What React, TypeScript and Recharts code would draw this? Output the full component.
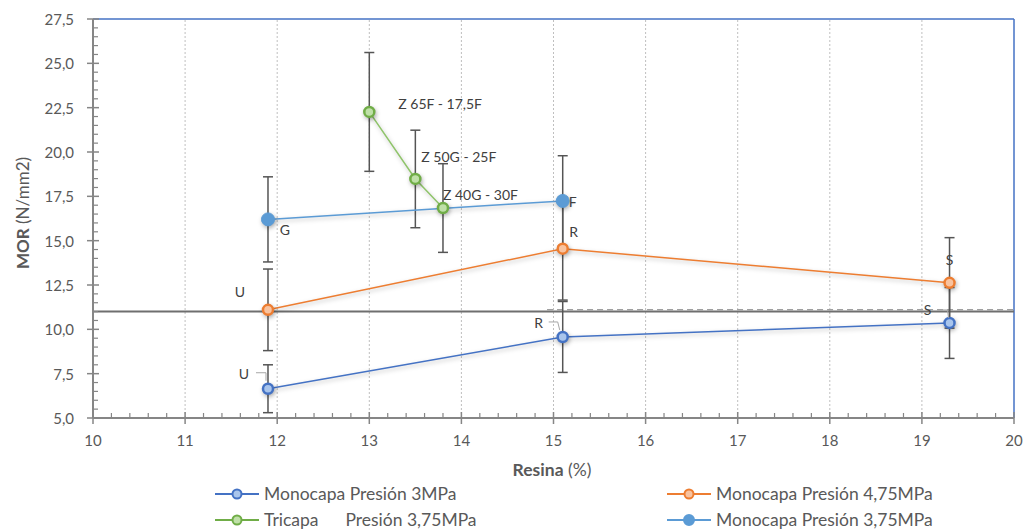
import { ErrorBar, LabelList, Line, LineChart, ReferenceLine, XAxis, YAxis } from 'recharts';

// Resina (%) / MOR (N/mm2) / desviación / etiqueta
const resinaMono3 = [11.9, 15.1, 19.3];
const morMono3 = [6.65, 9.57, 10.36];
const errMono3 = [1.35, 2.0, 2.0];
const labelsMono3 = ['U', 'R', 'S'];

const resinaMono475 = [11.9, 15.1, 19.3];
const morMono475 = [11.1, 14.55, 12.62];
const errMono475 = [2.3, 2.9, 2.55];
const labelsMono475 = ['U', 'R', 'S'];

const resinaTri = [13.0, 13.5, 13.8];
const morTri = [22.26, 18.48, 16.84];
const errTri = [3.35, 2.75, 2.5];
const labelsTri = ['Z 65F - 17,5F', 'Z 50G - 25F', 'Z 40G - 30F'];

const resinaMono375 = [11.9, 15.1];
const morMono375 = [16.2, 17.24];
const errMono375 = [2.4, 2.55];
const labelsMono375 = ['G', 'F'];

const xMajorTicks = [10, 11, 12, 13, 14, 15, 16, 17, 18, 19, 20];
const yMajorTicks = [5, 7.5, 10, 12.5, 15, 17.5, 20, 22.5, 25, 27.5];
const xGridLines = [11, 12, 13, 14, 15, 16, 17, 18, 19];

const xTicks = Array.from({ length: 51 }, (_, i) => Math.round((10 + i * 0.2) * 10) / 10);
const yTicks = Array.from({ length: 46 }, (_, i) => 5 + i * 0.5);

const limitLine = 11;
const dashedLine = 11.1;

type Pt = { x: number; y: number; err: number; label: string };

const toPoints = (xs: number[], ys: number[], es: number[], ls: string[]): Pt[] =>
  xs.map((x, i) => ({ x, y: ys[i], err: es[i], label: ls[i] }));

const mono3 = toPoints(resinaMono3, morMono3, errMono3, labelsMono3);
const mono475 = toPoints(resinaMono475, morMono475, errMono475, labelsMono475);
const tri = toPoints(resinaTri, morTri, errTri, labelsTri);
const mono375 = toPoints(resinaMono375, morMono375, errMono375, labelsMono375);

const FONT = 'Lato, "Open Sans", sans-serif';
const TEXT = '#595959';
const AXIS = '#868686';

const C_MONO3 = '#4472C4';
const C_MONO475 = '#ED7D31';
const C_TRI = '#70AD47';
const C_MONO375 = '#5B9BD5';

type Place = { dx: number; dy: number; anchor?: 'start' | 'middle' | 'end'; leader?: number[][] };

const placeMono3: Place[] = [
  { dx: -24, dy: -15, leader: [[-12, -16], [-2, -16], [-2, -8]] },
  { dx: -24, dy: -14, leader: [[-14, -15], [-5, -15], [-3, -7]] },
  { dx: -22, dy: -13, leader: [[-11, -13], [-2, -13], [-1, -5]] },
];
const placeMono475: Place[] = [
  { dx: -28, dy: -18 },
  { dx: 11, dy: -17 },
  { dx: 0, dy: -23 },
];
const placeTri: Place[] = [
  { dx: 29, dy: -8, anchor: 'start' },
  { dx: 6, dy: -22, anchor: 'start' },
  { dx: 0, dy: -14, anchor: 'start' },
];
const placeMono375: Place[] = [
  { dx: 17, dy: 10 },
  { dx: 10, dy: 1 },
];

function makeLabel(places: Place[]) {
  return (props: any) => {
    const { x, y, index, value } = props;
    const p = places[index];
    if (!p || x == null || y == null) return null;
    return (
      <g>
        {p.leader && (
          <polyline
            points={p.leader.map(([a, b]) => `${x + a},${y + b}`).join(' ')}
            fill="none"
            stroke="#a6a6a6"
            strokeWidth={1}
          />
        )}
        <text
          x={x + p.dx}
          y={y + p.dy}
          textAnchor={p.anchor ?? 'middle'}
          dominantBaseline="central"
          fontFamily={FONT}
          fontSize={14}
          fill="#404040"
        >
          {value}
        </text>
      </g>
    );
  };
}

function XTick({ x, y, payload }: any) {
  const v = payload.value;
  const major = Math.abs(v - Math.round(v)) < 1e-6;
  return (
    <g>
      {major ? (
        <line x1={x} x2={x} y1={y - 6} y2={y + 6} stroke={AXIS} strokeWidth={1.5} />
      ) : (
        <line x1={x} x2={x} y1={y - 5} y2={y} stroke={AXIS} strokeWidth={1.2} />
      )}
      {major && xMajorTicks.includes(Math.round(v)) && (
        <text x={x} y={y + 22} textAnchor="middle" dominantBaseline="central" fontFamily={FONT} fontSize={15} fill={TEXT}>
          {Math.round(v)}
        </text>
      )}
    </g>
  );
}

function YTick({ x, y, payload }: any) {
  const v = payload.value;
  const major = yMajorTicks.some((t) => Math.abs(t - v) < 1e-6);
  return (
    <g>
      {major ? (
        <line x1={x - 6} x2={x + 6} y1={y} y2={y} stroke={AXIS} strokeWidth={1.5} />
      ) : (
        <line x1={x} x2={x + 5} y1={y} y2={y} stroke={AXIS} strokeWidth={1.2} />
      )}
      {major && (
        <text x={x - 19} y={y} textAnchor="end" dominantBaseline="central" fontFamily={FONT} fontSize={15} fill={TEXT}>
          {v.toFixed(1).replace('.', ',')}
        </text>
      )}
    </g>
  );
}

function LegendIcon({ color, fill, stroke, r }: { color: string; fill: string; stroke: string; r: number }) {
  return (
    <svg width={44} height={14} style={{ marginRight: 5, flexShrink: 0 }}>
      <line x1={0} x2={44} y1={7} y2={7} stroke={color} strokeWidth={2} />
      <circle cx={22} cy={7} r={r} fill={fill} stroke={stroke} strokeWidth={2} />
    </svg>
  );
}

const legendItems = [
  { name: 'Monocapa Presión 3MPa', color: C_MONO3, fill: '#a9c5ec', r: 4.5 },
  { name: 'Monocapa Presión 4,75MPa', color: C_MONO475, fill: '#f8c3a0', r: 4.5 },
  { name: 'Tricapa      Presión 3,75MPa', color: C_TRI, fill: '#bfe0a8', r: 4.5 },
  { name: 'Monocapa Presión 3,75MPa', color: C_MONO375, fill: C_MONO375, r: 5 },
];

const legendPos = [
  { left: 215, top: 483 },
  { left: 667, top: 483 },
  { left: 215, top: 509 },
  { left: 667, top: 509 },
];

export default function App() {
  return (
    <div style={{ position: 'absolute', left: 0, top: 0, width: 1027, height: 529, background: '#fff' }}>
      <style>{`.recharts-line-curve { filter: drop-shadow(1px 2px 2px rgba(0,0,0,0.25)); }
.recharts-line-dots circle { filter: drop-shadow(1px 2px 2px rgba(0,0,0,0.3)); }`}</style>
      <LineChart width={1027} height={529} margin={{ top: 19, right: 13, bottom: 56, left: 0 }}>
        {xGridLines.map((g) => (
          <ReferenceLine key={g} x={g} stroke="#bfbfbf" strokeDasharray="2 2" strokeWidth={1} ifOverflow="visible" />
        ))}
        <ReferenceLine y={27.5} stroke={C_MONO3} strokeWidth={1.5} />
        <ReferenceLine x={20} stroke={C_MONO3} strokeWidth={1.5} />
        <ReferenceLine y={limitLine} stroke="#6f6f6f" strokeWidth={2} />
        <ReferenceLine
          segment={[
            { x: 14.93, y: dashedLine },
            { x: 20, y: dashedLine },
          ]}
          stroke="#a0a0a0"
          strokeDasharray="6 4"
          strokeWidth={1.5}
        />
        <XAxis
          type="number"
          dataKey="x"
          domain={[10, 20]}
          ticks={xTicks}
          interval={0}
          allowDataOverflow
          height={55}
          stroke={AXIS}
          strokeWidth={2}
          tickLine={false}
          tickSize={0}
          tickMargin={0}
          tick={<XTick />}
          label={{
            content: () => (
              <text x={552} y={469} textAnchor="middle" dominantBaseline="central" fontFamily={FONT} fontSize={17.5} fill={TEXT}>
                <tspan fontWeight={700}>Resina</tspan> (%)
              </text>
            ),
          }}
        />
        <YAxis
          type="number"
          dataKey="y"
          domain={[5, 27.5]}
          ticks={yTicks}
          interval={0}
          allowDataOverflow
          width={93}
          stroke={AXIS}
          strokeWidth={2}
          tickLine={false}
          tickSize={0}
          tickMargin={0}
          tick={<YTick />}
          label={{
            content: () => (
              <text
                x={22}
                y={213}
                transform="rotate(-90 22 213)"
                textAnchor="middle"
                dominantBaseline="central"
                fontFamily={FONT}
                fontSize={17}
                fill={TEXT}
              >
                <tspan fontWeight={700}>MOR</tspan> (N/mm2)
              </text>
            ),
          }}
        />
        <Line
          data={mono3}
          dataKey="y"
          name="Monocapa Presión 3MPa"
          stroke={C_MONO3}
          strokeWidth={1.5}
          dot={{ r: 5, fill: '#a9c5ec', stroke: C_MONO3, strokeWidth: 2.5 }}
          activeDot={false}
          isAnimationActive={false}
        >
          <ErrorBar dataKey="err" direction="y" width={5} stroke="#555" strokeWidth={1.5} />
          <LabelList dataKey="label" content={makeLabel(placeMono3)} />
        </Line>
        <Line
          data={mono475}
          dataKey="y"
          name="Monocapa Presión 4,75MPa"
          stroke={C_MONO475}
          strokeWidth={1.5}
          dot={{ r: 5, fill: '#f8c3a0', stroke: C_MONO475, strokeWidth: 2.5 }}
          activeDot={false}
          isAnimationActive={false}
        >
          <ErrorBar dataKey="err" direction="y" width={5} stroke="#555" strokeWidth={1.5} />
          <LabelList dataKey="label" content={makeLabel(placeMono475)} />
        </Line>
        <Line
          data={tri}
          dataKey="y"
          name="Tricapa Presión 3,75MPa"
          stroke="#8fc46a"
          strokeWidth={1.5}
          dot={{ r: 5, fill: '#bfe0a8', stroke: C_TRI, strokeWidth: 2.5 }}
          activeDot={false}
          isAnimationActive={false}
        >
          <ErrorBar dataKey="err" direction="y" width={5} stroke="#555" strokeWidth={1.5} />
          <LabelList dataKey="label" content={makeLabel(placeTri)} />
        </Line>
        <Line
          data={mono375}
          dataKey="y"
          name="Monocapa Presión 3,75MPa"
          stroke={C_MONO375}
          strokeWidth={1.5}
          dot={{ r: 6.5, fill: C_MONO375, stroke: C_MONO375, strokeWidth: 1 }}
          activeDot={false}
          isAnimationActive={false}
        >
          <ErrorBar dataKey="err" direction="y" width={5} stroke="#555" strokeWidth={1.5} />
          <LabelList dataKey="label" content={makeLabel(placeMono375)} />
        </Line>
      </LineChart>
      {legendItems.map((it, i) => (
        <div
          key={it.name}
          style={{
            position: 'absolute',
            left: legendPos[i].left,
            top: legendPos[i].top,
            display: 'flex',
            alignItems: 'center',
            fontFamily: FONT,
            fontSize: 17.5,
            color: TEXT,
            whiteSpace: 'pre',
            lineHeight: '22px',
          }}
        >
          <LegendIcon color={it.color} fill={it.fill} stroke={it.color} r={it.r} />
          {it.name}
        </div>
      ))}
    </div>
  );
}
